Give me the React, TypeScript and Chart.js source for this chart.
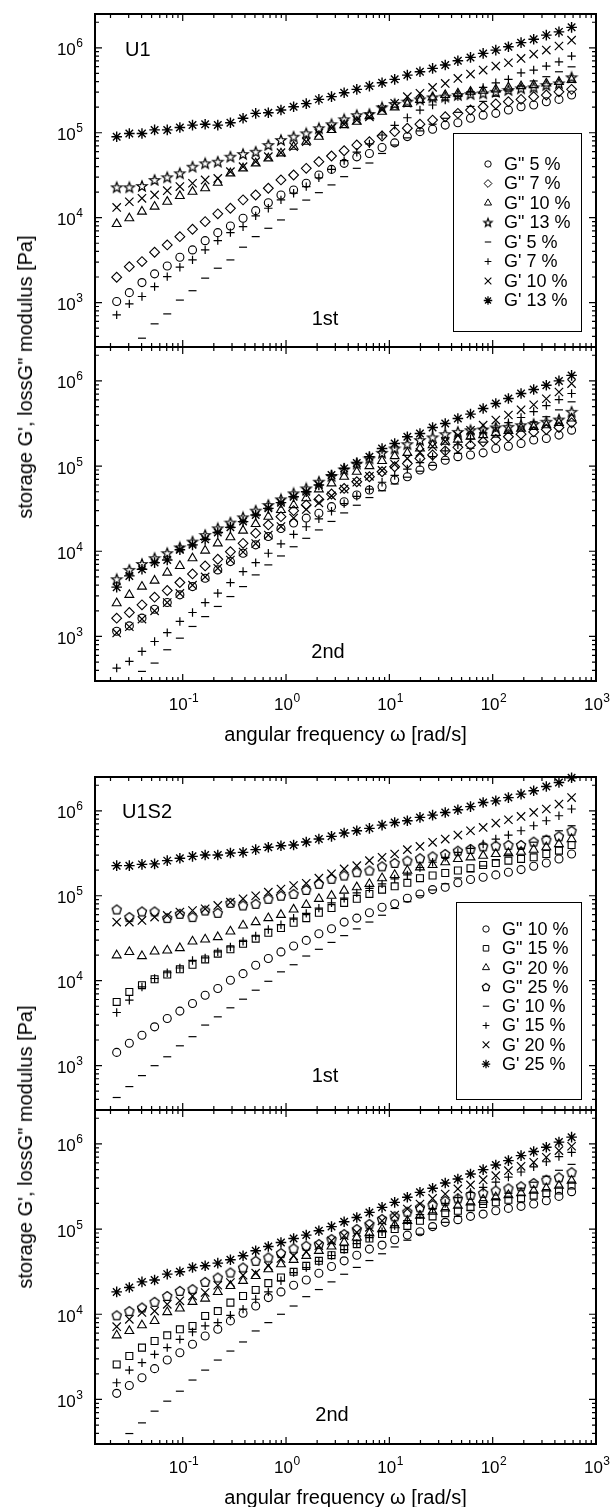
import React, { useEffect, useRef } from "react";
import { Chart, registerables } from "chart.js";
import { drawPoint } from "chart.js/helpers";

Chart.register(...registerables);

const FONT = '"Liberation Sans", Arial, Helvetica, sans-serif';

// angular frequency [rad/s]
const FREQ = [0.02296, 0.03043, 0.04033, 0.05344, 0.07083, 0.09387, 0.1244, 0.1649, 0.2185, 0.2895, 0.3837, 0.5085, 0.6739, 0.8932, 1.184, 1.569, 2.079, 2.755, 3.651, 4.839, 6.412, 8.498, 11.26, 14.93, 19.78, 26.21, 34.74, 46.04, 61.01, 80.86, 107.2, 142.0, 188.2, 249.4, 330.5, 438.0, 580.4];

const X_MIN = 0.01416;
const X_MAX = 1000;
const Y_MIN = 300;
const Y_MAX = 2.5e6;
const X_TICK_EXP = [-1, 0, 1, 2, 3];
const Y_TICK_EXP = [3, 4, 5, 6];

// ---- U1, 1st run ----
const U1_1_GPP5 = [1030, 1310, 1720, 2180, 2700, 3420, 4170, 5360, 6660, 7980, 9840, 12100, 15000, 18500, 21200, 25400, 31800, 37000, 43600, 52000, 57000, 67000, 76000, 90000, 103000, 110000, 123000, 131000, 148000, 161000, 169000, 185000, 202000, 212000, 232000, 247000, 278000];
const U1_1_GPP7 = [1990, 2650, 3040, 3920, 4780, 5970, 7300, 8980, 11100, 12900, 16200, 18500, 22200, 27800, 31800, 38100, 45600, 53200, 61400, 71600, 78400, 91500, 103000, 113000, 126000, 141000, 154000, 169000, 185000, 202000, 218000, 232000, 247000, 266000, 278000, 303000, 324000];
const U1_1_GPP10 = [8430, 9840, 11800, 13500, 15400, 18000, 20200, 22200, 25800, 33300, 38100, 43600, 50000, 57200, 68400, 78400, 89800, 108000, 123000, 135000, 157000, 177000, 199000, 218000, 243000, 261000, 278000, 291000, 304000, 312000, 324000, 342000, 354000, 364000, 381000, 398000, 420000];
const U1_1_GPP13 = [22800, 22800, 23600, 27800, 29900, 33300, 39800, 43600, 45600, 52200, 56100, 59700, 71600, 82000, 89800, 98400, 113000, 126000, 144000, 161000, 166000, 199000, 218000, 232000, 247000, 261000, 266000, 278000, 285000, 291000, 303000, 318000, 333000, 342000, 364000, 381000, 450000];
const U1_1_GP5 = [null, null, 381, 562, 736, 1070, 1380, 1940, 2540, 3180, 4490, 5980, 7500, 9400, 12600, 16100, 19700, 24300, 30400, 38100, 44000, 57000, 71600, 87000, 105000, 126000, 148000, 174000, 204000, 234000, 269000, 309000, 355000, 407000, 457000, 522000, 597000];
const U1_1_GP7 = [716, 966, 1180, 1540, 2020, 2610, 3180, 4170, 5360, 6660, 7830, 10500, 12900, 16200, 19400, 23200, 29500, 37000, 47000, 59000, 74000, 94000, 122000, 150000, 185000, 212000, 243000, 266000, 304000, 342000, 387000, 425000, 508000, 547000, 609000, 684000, 798000];
const U1_1_GP10 = [13200, 15400, 16900, 18500, 20800, 23200, 25400, 27800, 29000, 34800, 39800, 45600, 52200, 58200, 68400, 78400, 98400, 113000, 126000, 141000, 154000, 188000, 222000, 266000, 291000, 342000, 381000, 436000, 491000, 547000, 609000, 667000, 750000, 844000, 939000, 1050000, 1230000];
const U1_1_GP13 = [89700, 98000, 98000, 108000, 108000, 115000, 123000, 126000, 123000, 131000, 148000, 169000, 172000, 185000, 202000, 220000, 247000, 266000, 296000, 324000, 354000, 387000, 425000, 477000, 522000, 572000, 626000, 703000, 771000, 859000, 939000, 1030000, 1150000, 1260000, 1410000, 1540000, 1740000];

// ---- U1, 2nd run ----
const U1_2_GPP5 = [1150, 1330, 1640, 2090, 2500, 3080, 3850, 4830, 6040, 7560, 9480, 11900, 14900, 18500, 21500, 24500, 27900, 33400, 38200, 45700, 52400, 57300, 68600, 75000, 89800, 100000, 117000, 129000, 135000, 143000, 161000, 171000, 184000, 202000, 211000, 231000, 264000];
const U1_2_GPP7 = [1640, 1910, 2350, 2890, 3460, 4300, 5420, 6730, 8050, 9900, 12400, 16300, 20400, 25500, 30000, 35000, 40600, 47000, 54700, 65500, 75000, 85800, 98200, 107000, 123000, 135000, 151000, 166000, 176000, 193000, 205000, 221000, 237000, 252000, 269000, 284000, 322000];
const U1_2_GPP10 = [2460, 3080, 3850, 4530, 5620, 6730, 8280, 10200, 12400, 14600, 17500, 20900, 25500, 30500, 34900, 42000, 53400, 62700, 75000, 85800, 100000, 115000, 131000, 143000, 161000, 176000, 193000, 205000, 221000, 231000, 246000, 259000, 276000, 289000, 302000, 322000, 362000];
const U1_2_GPP13 = [4700, 6040, 7100, 8300, 9500, 11100, 13000, 15500, 18600, 21700, 25000, 30000, 34900, 40700, 47900, 54700, 65500, 76400, 91400, 107000, 123000, 143000, 161000, 181000, 202000, 217000, 237000, 252000, 264000, 269000, 284000, 289000, 302000, 311000, 331000, 352000, 433000];
const U1_2_GP5 = [null, null, 389, 487, 698, 955, 1310, 1710, 2250, 2940, 3850, 5280, 6920, 8810, 11300, 14200, 17800, 22400, 28200, 34700, 42700, 51300, 61700, 74100, 87100, 102000, 120000, 141000, 162000, 191000, 219000, 251000, 288000, 331000, 380000, 457000, 568000];
const U1_2_GP7 = [426, 510, 667, 873, 1110, 1500, 1910, 2500, 3220, 4290, 5780, 7360, 9480, 12200, 15800, 19400, 24000, 29500, 36300, 44200, 53700, 64600, 77600, 92300, 110000, 129000, 151000, 178000, 209000, 245000, 282000, 324000, 372000, 437000, 513000, 603000, 711000];
const U1_2_GP10 = [1100, 1300, 1600, 2000, 2500, 3200, 4000, 5000, 6300, 7900, 9800, 12300, 15500, 19500, 24500, 31000, 37000, 44700, 53700, 64600, 75900, 89000, 105000, 123000, 145000, 170000, 195000, 229000, 263000, 302000, 347000, 398000, 457000, 525000, 617000, 741000, 931000];
const U1_2_GP13 = [3790, 5140, 6150, 7360, 7910, 10400, 11900, 13800, 16600, 19100, 22300, 26700, 31900, 37200, 43700, 50000, 60000, 78500, 94000, 109000, 129000, 161000, 184000, 221000, 241000, 284000, 316000, 362000, 407000, 474000, 543000, 621000, 711000, 791000, 889000, 1000000, 1160000];

// ---- U1S2, 1st run ----
const U1S2_1_GPP10 = [1430, 1830, 2280, 2860, 3590, 4380, 5380, 6740, 8070, 10100, 12100, 15200, 18200, 21800, 25600, 29800, 35600, 40800, 48900, 54500, 63000, 73300, 80300, 93500, 105000, 118000, 126000, 142000, 155000, 165000, 176000, 189000, 203000, 222000, 243000, 271000, 310000];
const U1S2_1_GPP15 = [5620, 7370, 8840, 10400, 11800, 13600, 15400, 17800, 20800, 23400, 27200, 31200, 36600, 41600, 48100, 54500, 63000, 71500, 82400, 91900, 105000, 118000, 129000, 142000, 161000, 173000, 185000, 198000, 211000, 230000, 243000, 259000, 271000, 283000, 310000, 339000, 396000];
const U1S2_1_GPP20 = [19900, 21800, 19500, 22100, 22700, 24200, 29000, 30600, 32600, 38000, 44700, 48900, 54500, 59600, 68900, 78100, 91900, 100000, 115000, 126000, 138000, 161000, 176000, 198000, 216000, 230000, 248000, 271000, 283000, 296000, 310000, 318000, 330000, 349000, 372000, 406000, 465000];
const U1S2_1_GPP25 = [68900, 56000, 65300, 65300, 54500, 61200, 56000, 67000, 62900, 82400, 76800, 80200, 91900, 100000, 105000, 117000, 138000, 158000, 173000, 189000, 198000, 222000, 243000, 259000, 276000, 291000, 310000, 339000, 355000, 381000, 388000, 396000, 396000, 433000, 457000, 500000, 582000];
const U1S2_1_GP10 = [421, 566, 762, 998, 1270, 1710, 2190, 3000, 3750, 4790, 6050, 7720, 9830, 12700, 15400, 19500, 23400, 28200, 33900, 40700, 49000, 58900, 70800, 85100, 100000, 117000, 138000, 162000, 191000, 224000, 263000, 309000, 363000, 427000, 501000, 582000, 667000];
const U1S2_1_GP15 = [4220, 5890, 8430, 10600, 12400, 14100, 17300, 18500, 21800, 24900, 29000, 33500, 40100, 45500, 54500, 62000, 71500, 82400, 93500, 108000, 122000, 138000, 158000, 176000, 215000, 248000, 283000, 324000, 361000, 406000, 465000, 518000, 582000, 667000, 764000, 874000, 1050000];
const U1S2_1_GP20 = [48900, 48900, 51200, 56000, 58600, 64200, 67000, 70200, 76800, 84000, 91900, 100000, 110000, 120000, 132000, 140000, 161000, 181000, 207000, 226000, 259000, 283000, 310000, 349000, 381000, 425000, 465000, 518000, 582000, 637000, 716000, 784000, 858000, 956000, 1050000, 1200000, 1430000];
const U1S2_1_GP25 = [226000, 226000, 234000, 237000, 259000, 276000, 291000, 302000, 302000, 318000, 324000, 349000, 372000, 388000, 396000, 430000, 465000, 500000, 547000, 582000, 621000, 679000, 729000, 764000, 836000, 889000, 956000, 1030000, 1120000, 1250000, 1310000, 1430000, 1570000, 1720000, 1930000, 2150000, 2450000];

// ---- U1S2, 2nd run ----
const U1S2_2_GPP10 = [1180, 1460, 1800, 2300, 2900, 3540, 4440, 5560, 6660, 8360, 10300, 12500, 15700, 18300, 21900, 25300, 30300, 36400, 42400, 49400, 58200, 64900, 75000, 85000, 93000, 107000, 120000, 129000, 141000, 150000, 164000, 175000, 185000, 197000, 215000, 242000, 275000];
const U1S2_2_GPP15 = [2580, 3240, 4060, 4860, 5660, 6660, 7300, 9560, 10900, 13700, 16400, 19300, 23200, 27000, 31500, 37000, 42400, 49400, 58200, 66600, 77600, 87300, 100000, 109000, 125000, 141000, 154000, 164000, 180000, 197000, 206000, 221000, 229000, 247000, 265000, 283000, 324000];
const U1S2_2_GPP20 = [5660, 6370, 7430, 8360, 10600, 11700, 14000, 15300, 18300, 21500, 24700, 28200, 33800, 38700, 43600, 48600, 55600, 62500, 69700, 79800, 89800, 100000, 111000, 125000, 144000, 160000, 175000, 188000, 206000, 221000, 236000, 251000, 265000, 283000, 301000, 323000, 371000];
const U1S2_2_GPP25 = [9720, 10900, 12000, 14000, 16400, 18800, 19700, 24000, 27000, 30900, 35400, 42400, 46400, 52200, 59300, 63700, 66600, 76300, 87300, 100000, 115000, 131000, 141000, 160000, 180000, 192000, 215000, 229000, 251000, 265000, 283000, 301000, 318000, 347000, 380000, 405000, 465000];
const U1S2_2_GP10 = [null, 398, 531, 729, 955, 1250, 1690, 2210, 2900, 3700, 4730, 6370, 7980, 10000, 12500, 16100, 19500, 24000, 29500, 35500, 42700, 51300, 61700, 74000, 87000, 102000, 120000, 141000, 166000, 195000, 224000, 263000, 302000, 355000, 417000, 490000, 575000];
const U1S2_2_GP15 = [1570, 2210, 2700, 3380, 4060, 5080, 6200, 7300, 7980, 9730, 11500, 15000, 18300, 24700, 30900, 35400, 41700, 49000, 57500, 67600, 79400, 93000, 110000, 126000, 148000, 174000, 200000, 234000, 269000, 309000, 355000, 407000, 468000, 537000, 617000, 708000, 794000];
const U1S2_2_GP20 = [7160, 8730, 10500, 10900, 13100, 14400, 16400, 18000, 21900, 23600, 28800, 30400, 37000, 45200, 48600, 54000, 63700, 72900, 83500, 91400, 105000, 125000, 146000, 172000, 197000, 229000, 258000, 296000, 330000, 380000, 424000, 485000, 546000, 608000, 697000, 835000, 939000];
const U1S2_2_GP25 = [18300, 20600, 24000, 25300, 29600, 31500, 35400, 37100, 39800, 43600, 48600, 55600, 62500, 69700, 77600, 85000, 95500, 107000, 122000, 137000, 157000, 180000, 206000, 236000, 270000, 301000, 347000, 387000, 443000, 499000, 566000, 637000, 729000, 813000, 915000, 1050000, 1200000];

const U1_LABELS = ['G" 5 %', 'G" 7 %', 'G" 10 %', 'G" 13 %', "G' 5 %", "G' 7 %", "G' 10 %", "G' 13 %"];
const U1S2_LABELS = ['G" 10 %', 'G" 15 %', 'G" 20 %', 'G" 25 %', "G' 10 %", "G' 15 %", "G' 20 %", "G' 25 %"];

const markerCache: Record<string, HTMLCanvasElement> = {};
function polyMarker(kind: "star" | "pentagon", scale: number): HTMLCanvasElement {
  const key = kind + scale;
  if (markerCache[key]) return markerCache[key];
  const c = document.createElement("canvas");
  c.width = 14;
  c.height = 14;
  const ctx = c.getContext("2d") as CanvasRenderingContext2D;
  ctx.strokeStyle = "#000";
  ctx.lineWidth = 1.25;
  ctx.lineJoin = "miter";
  ctx.beginPath();
  const n = kind === "star" ? 10 : 5;
  for (let i = 0; i < n; i++) {
    const r = (kind === "star" ? (i % 2 === 0 ? 5.4 : 2.3) : 4.8) * scale;
    const a = -Math.PI / 2 + (i * 2 * Math.PI) / n;
    const px = 7 + r * Math.cos(a);
    const py = 7.4 + r * Math.sin(a);
    if (i === 0) ctx.moveTo(px, py);
    else ctx.lineTo(px, py);
  }
  ctx.closePath();
  ctx.stroke();
  markerCache[key] = c;
  return c;
}

type MarkerKind = "circle" | "diamond" | "triangle" | "star5" | "pentagon" | "square" | "minus" | "plus" | "cross" | "asterisk";

function markerOpts(kind: MarkerKind, scale = 1): { style: any; radius: number; lw: number } {
  switch (kind) {
    case "circle": return { style: "circle", radius: 4.0 * scale, lw: 1.1 };
    case "diamond": return { style: "rectRot", radius: 4.9 * scale, lw: 1.1 };
    case "triangle": return { style: "triangle", radius: 5.1 * scale, lw: 1.1 };
    case "square": return { style: "rect", radius: 4.9 * scale, lw: 1.1 };
    case "star5": return { style: polyMarker("star", scale), radius: 5, lw: 1.1 };
    case "pentagon": return { style: polyMarker("pentagon", scale), radius: 5, lw: 1.1 };
    case "minus": return { style: "line", radius: 4.0 * scale, lw: 1.2 };
    case "plus": return { style: "cross", radius: 4.2 * scale, lw: 1.2 };
    case "cross": return { style: "crossRot", radius: 5.9 * scale, lw: 1.2 };
    case "asterisk": return { style: "star", radius: 5.3 * scale, lw: 1.4 };
  }
}

type Series = { label: string; data: (number | null)[]; kind: MarkerKind };
type Panel = {
  top: number;
  height: number;
  padTop: number;
  padBottom: number;
  series: Series[];
  name?: string;
  nameX?: number;
  nameY?: number;
  run: string;
  runX: number;
  runY: number;
  showX: boolean;
  legend?: { box: [number, number, number, number]; rowY: number; rowStep: number; symX: number; textX: number };
};

const U1_KINDS: MarkerKind[] = ["circle", "diamond", "triangle", "star5", "minus", "plus", "cross", "asterisk"];
const U1S2_KINDS: MarkerKind[] = ["circle", "square", "triangle", "pentagon", "minus", "plus", "cross", "asterisk"];

function mk(labels: string[], kinds: MarkerKind[], arrays: (number | null)[][]): Series[] {
  return arrays.map((a, i) => ({ label: labels[i], data: a, kind: kinds[i] }));
}

const PANELS: Panel[] = [
  {
    top: 0, height: 356, padTop: 14, padBottom: 9,
    series: mk(U1_LABELS, U1_KINDS, [U1_1_GPP5, U1_1_GPP7, U1_1_GPP10, U1_1_GPP13, U1_1_GP5, U1_1_GP7, U1_1_GP10, U1_1_GP13]),
    name: "U1", nameX: 125, nameY: 50,
    run: "1st", runX: 325, runY: 319, showX: false,
    legend: { box: [453, 133, 581, 331], rowY: 164, rowStep: 19.5, symX: 488, textX: 504 },
  },
  {
    top: 340, height: 420, padTop: 7, padBottom: 79,
    series: mk(U1_LABELS, U1_KINDS, [U1_2_GPP5, U1_2_GPP7, U1_2_GPP10, U1_2_GPP13, U1_2_GP5, U1_2_GP7, U1_2_GP10, U1_2_GP13]),
    run: "2nd", runX: 328, runY: 312, showX: true,
  },
  {
    top: 765, height: 352, padTop: 12, padBottom: 7,
    series: mk(U1S2_LABELS, U1S2_KINDS, [U1S2_1_GPP10, U1S2_1_GPP15, U1S2_1_GPP20, U1S2_1_GPP25, U1S2_1_GP10, U1S2_1_GP15, U1S2_1_GP20, U1S2_1_GP25]),
    name: "U1S2", nameX: 122, nameY: 47,
    run: "1st", runX: 325, runY: 311, showX: false,
    legend: { box: [456, 137, 581, 334], rowY: 164, rowStep: 19.3, symX: 486, textX: 502 },
  },
  {
    top: 1103, height: 404, padTop: 7, padBottom: 63,
    series: mk(U1S2_LABELS, U1S2_KINDS, [U1S2_2_GPP10, U1S2_2_GPP15, U1S2_2_GPP20, U1S2_2_GPP25, U1S2_2_GP10, U1S2_2_GP15, U1S2_2_GP20, U1S2_2_GP25]),
    run: "2nd", runX: 332, runY: 312, showX: true,
  },
];

function drawPow(ctx: CanvasRenderingContext2D, exp: string, x: number, cy: number, align: "right" | "center") {
  ctx.font = `17px ${FONT}`;
  const bw = ctx.measureText("10").width;
  ctx.font = `12px ${FONT}`;
  const sw = ctx.measureText(exp).width;
  const total = bw + sw + 0.5;
  const x0 = align === "right" ? x - total : x - total / 2 + 1;
  ctx.textAlign = "left";
  ctx.textBaseline = "alphabetic";
  ctx.font = `17px ${FONT}`;
  ctx.fillText("10", x0, cy + 7.5);
  ctx.font = `12px ${FONT}`;
  ctx.fillText(exp, x0 + bw + 0.5, cy - 0.5);
}

function decoPlugin(p: Panel) {
  return {
    id: "deco",
    afterDatasetsDraw(chart: any) {
      const ctx: CanvasRenderingContext2D = chart.ctx;
      const { left, right, top, bottom } = chart.chartArea;
      const xs = chart.scales.x;
      const ys = chart.scales.y;
      ctx.save();
      ctx.strokeStyle = "#000";
      ctx.fillStyle = "#000";
      ctx.lineWidth = 1.2;
      ctx.beginPath();
      for (let d = -2; d <= 3; d++) {
        for (let m = 1; m <= 9; m++) {
          const v = m * Math.pow(10, d);
          if (v <= X_MIN * 1.0001 || v >= X_MAX * 0.9999) continue;
          const px = xs.getPixelForValue(v);
          const len = m === 1 ? 7 : 4;
          ctx.moveTo(px, bottom);
          ctx.lineTo(px, bottom - len);
          ctx.moveTo(px, top);
          ctx.lineTo(px, top + len);
        }
      }
      for (let d = 2; d <= 6; d++) {
        for (let m = 1; m <= 9; m++) {
          const v = m * Math.pow(10, d);
          if (v <= Y_MIN * 1.0001 || v >= Y_MAX * 0.9999) continue;
          const py = ys.getPixelForValue(v);
          const len = m === 1 ? 7 : 4;
          ctx.moveTo(left, py);
          ctx.lineTo(left + len, py);
          ctx.moveTo(right, py);
          ctx.lineTo(right - len, py);
        }
      }
      ctx.stroke();
      ctx.lineWidth = 2;
      ctx.strokeRect(left, top, right - left, bottom - top);

      for (const e of Y_TICK_EXP) {
        const py = ys.getPixelForValue(Math.pow(10, e));
        drawPow(ctx, String(e), left - 12, py, "right");
      }
      if (p.showX) {
        for (const e of X_TICK_EXP) {
          const px = xs.getPixelForValue(Math.pow(10, e));
          drawPow(ctx, String(e), px, bottom + 21, "center");
        }
        ctx.font = `20px ${FONT}`;
        ctx.textAlign = "center";
        ctx.textBaseline = "middle";
        ctx.fillText("angular frequency \u03c9 [rad/s]", (left + right) / 2, bottom + 54);
      }
      ctx.font = `20px ${FONT}`;
      ctx.textBaseline = "middle";
      if (p.name) {
        ctx.textAlign = "left";
        ctx.fillText(p.name, p.nameX as number, p.nameY as number);
      }
      ctx.textAlign = "center";
      ctx.fillText(p.run, p.runX, p.runY);

      if (p.legend) {
        const L = p.legend;
        ctx.lineWidth = 1;
        ctx.strokeRect(L.box[0] + 0.5, L.box[1] + 0.5, L.box[2] - L.box[0], L.box[3] - L.box[1]);
        p.series.forEach((s, i) => {
          const y = L.rowY + i * L.rowStep;
          const m = markerOpts(s.kind, 0.8);
          ctx.save();
          ctx.strokeStyle = "#000";
          ctx.fillStyle = "rgba(0,0,0,0)";
          ctx.lineWidth = m.lw * 0.9;
          drawPoint(ctx, { pointStyle: m.style, radius: m.radius, rotation: 0, borderWidth: m.lw } as any, L.symX, y);
          ctx.restore();
          ctx.fillStyle = "#000";
          ctx.font = `18px ${FONT}`;
          ctx.textAlign = "left";
          ctx.textBaseline = "middle";
          ctx.fillText(s.label, L.textX, y + 1);
        });
      }
      ctx.restore();
    },
  };
}

function PanelChart({ p }: { p: Panel }) {
  const ref = useRef<HTMLCanvasElement | null>(null);
  useEffect(() => {
    if (!ref.current) return;
    const datasets = p.series.map((s) => {
      const m = markerOpts(s.kind);
      const pts: { x: number; y: number }[] = [];
      s.data.forEach((v, i) => {
        if (v !== null) pts.push({ x: FREQ[i], y: v });
      });
      return {
        label: s.label,
        data: pts,
        showLine: false,
        pointStyle: m.style,
        pointRadius: m.radius,
        pointBorderWidth: m.lw,
        pointBorderColor: "#000",
        pointBackgroundColor: "rgba(0,0,0,0)",
        borderColor: "#000",
        backgroundColor: "rgba(0,0,0,0)",
        clip: false as any,
      };
    });
    const chart = new Chart(ref.current, {
      type: "scatter",
      data: { datasets: datasets as any },
      options: {
        animation: false,
        responsive: false,
        maintainAspectRatio: false,
        events: [],
        layout: { autoPadding: false, padding: { left: 95, right: 17, top: p.padTop, bottom: p.padBottom } },
        plugins: { legend: { display: false }, tooltip: { enabled: false } },
        scales: {
          x: { type: "logarithmic", min: X_MIN, max: X_MAX, display: false },
          y: { type: "logarithmic", min: Y_MIN, max: Y_MAX, display: false },
        },
      } as any,
      plugins: [decoPlugin(p) as any],
    });
    return () => chart.destroy();
  }, [p]);
  return (
    <canvas
      ref={ref}
      width={613}
      height={p.height}
      style={{ position: "absolute", left: 0, top: p.top, width: 613, height: p.height }}
    />
  );
}

const Y_TITLE = "storage G', lossG\" modulus [Pa]";

export default function App() {
  const titleStyle = (cy: number): React.CSSProperties => ({
    position: "absolute",
    left: 25,
    top: cy,
    transform: "translate(-50%, -50%) rotate(-90deg)",
    whiteSpace: "nowrap",
    fontFamily: FONT,
    fontSize: 20,
    lineHeight: 1,
    color: "#000",
  });
  return (
    <div style={{ position: "absolute", left: 0, top: 0, width: 613, height: 1507, background: "#fff", overflow: "hidden" }}>
      {PANELS.map((p, i) => (
        <PanelChart key={i} p={p} />
      ))}
      <div style={titleStyle(377)}>{Y_TITLE}</div>
      <div style={titleStyle(1147)}>{Y_TITLE}</div>
    </div>
  );
}
